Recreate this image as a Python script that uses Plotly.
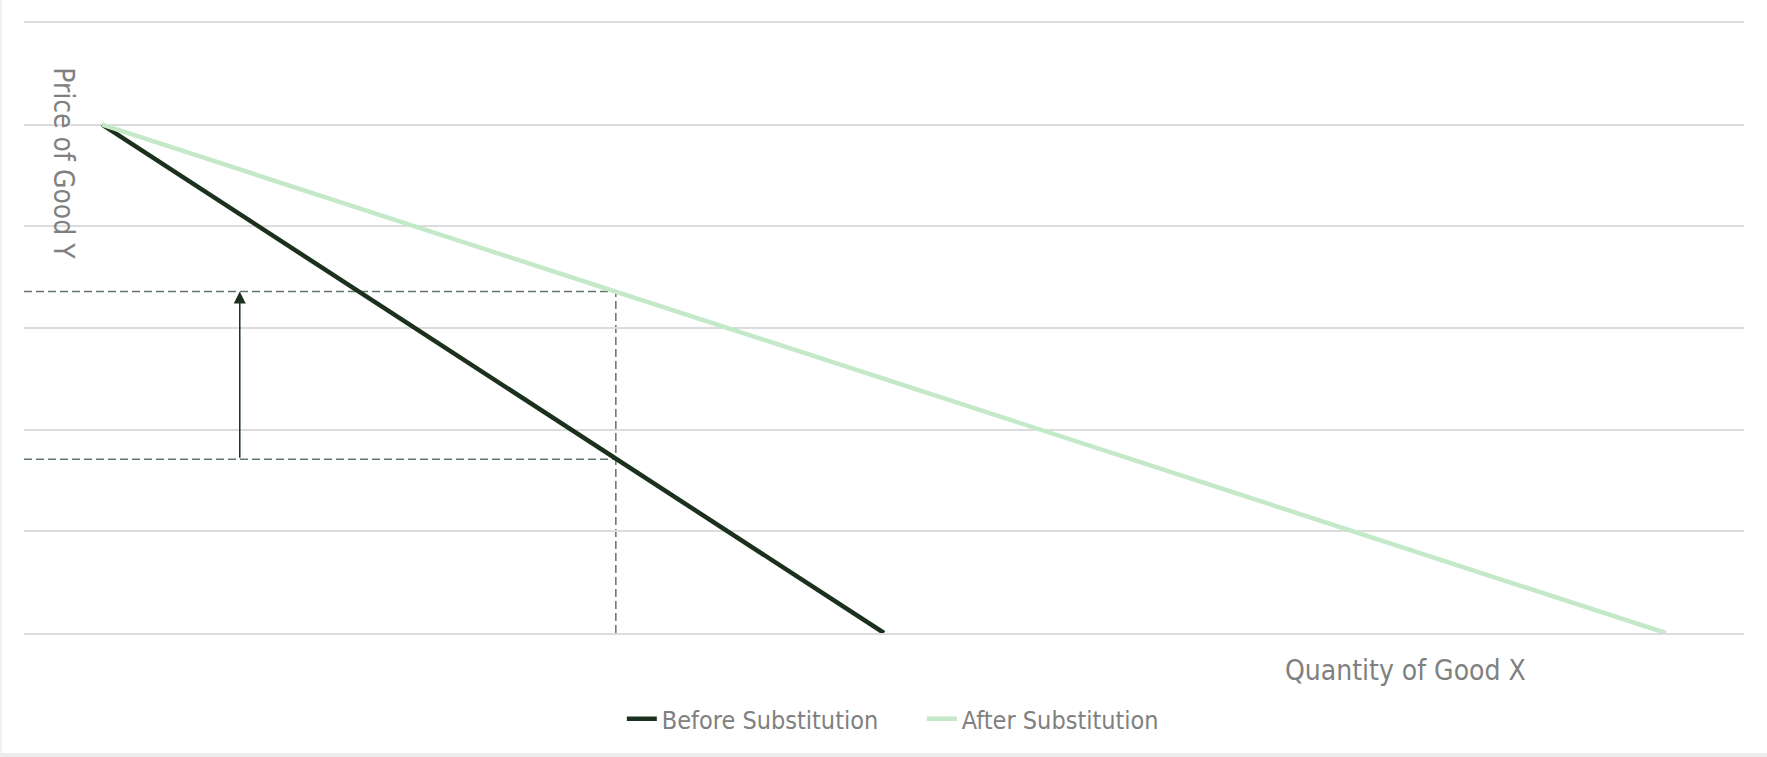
import plotly.graph_objects as go

# ---- data ----
series_names = ["Before Substitution", "After Substitution"]
before_x = [0, 10]
before_y = [5, 0]
after_x = [0, 20]
after_y = [5, 0]

guide_x = 6.57          # quantity where dashed guides drop
guide_y_high = 3.36     # price level on "After" line
guide_y_low = 1.71      # price level on "Before" line
arrow_x = 1.76          # x position of the upward arrow

x_range = [-1, 21]
y_range = [0, 6]

# ---- styles ----
dark = "#1b311d"
light = "#c4e9c9"
guide_col = "#62766a"
text_col = "#808080"
grid_col = "#dcdcdc"
font_family = "DejaVu Sans Condensed, DejaVu Sans, sans-serif"

fig = go.Figure()
fig.add_trace(go.Scatter(x=before_x, y=before_y, mode="lines", name=series_names[0],
                         line=dict(color=dark, width=4.5)))
fig.add_trace(go.Scatter(x=after_x, y=after_y, mode="lines", name=series_names[1],
                         line=dict(color=light, width=4.5)))

dash_style = dict(color=guide_col, width=1.5, dash="8px,4px")
# horizontal guides
fig.add_shape(type="line", xref="x", yref="y", x0=x_range[0], x1=guide_x,
              y0=guide_y_high, y1=guide_y_high, line=dash_style, layer="below")
fig.add_shape(type="line", xref="x", yref="y", x0=x_range[0], x1=guide_x,
              y0=guide_y_low, y1=guide_y_low, line=dash_style, layer="below")
# vertical guide
fig.add_shape(type="line", xref="x", yref="y", x0=guide_x, x1=guide_x,
              y0=y_range[0], y1=guide_y_high, line=dash_style, layer="below")

# arrow
fig.add_annotation(x=arrow_x, y=guide_y_high, ax=arrow_x, ay=guide_y_low,
                   xref="x", yref="y", axref="x", ayref="y", text="",
                   showarrow=True, arrowhead=2, arrowsize=1.6, arrowwidth=1.5,
                   arrowcolor=dark)

# axis titles as annotations
fig.add_annotation(text="Quantity of Good X", xref="paper", yref="paper",
                   x=0.803, y=-0.061, xanchor="center", yanchor="middle",
                   showarrow=False, font=dict(size=28, color=text_col, family=font_family))
fig.add_annotation(text="Price of Good Y", xref="paper", yref="paper",
                   x=0.0233, y=0.770, xanchor="center", yanchor="middle",
                   textangle=90, showarrow=False,
                   font=dict(size=28, color=text_col, family=font_family))

# screenshot frame details (thin grey strip at bottom, faint left border)
fig.add_shape(type="rect", xref="paper", yref="paper", x0=-0.02, x1=1.02,
              y0=-0.2033, y1=-0.1967, fillcolor="#ececec", line=dict(width=0), layer="below")
fig.add_shape(type="line", xref="paper", yref="paper", x0=-0.0134, x1=-0.0134,
              y0=-0.1967, y1=1.04, line=dict(color="#eeeeee", width=1.5), layer="below")

fig.update_layout(
    width=1767, height=757,
    margin=dict(l=24, r=23, t=23, b=124),
    paper_bgcolor="white", plot_bgcolor="white",
    font=dict(family=font_family, color=text_col),
    showlegend=True,
    legend=dict(orientation="h", x=0.522, xanchor="center", y=-0.141, yanchor="middle",
                font=dict(size=25, color=text_col, family=font_family),
                entrywidth=255, traceorder="normal"),
    xaxis=dict(range=x_range, showgrid=False, zeroline=False, showticklabels=False,
               showline=True, mirror=True, linecolor=grid_col, linewidth=1.5, ticks=""),
    yaxis=dict(range=y_range, dtick=1, showgrid=True, gridcolor=grid_col, gridwidth=1.5,
               zeroline=False, showticklabels=False, showline=False, ticks=""),
)

fig.write_html(
    "out.html",
    config={"displayModeBar": False},
    post_script="document.body.style.margin='0';document.body.style.overflow='hidden';",
)
